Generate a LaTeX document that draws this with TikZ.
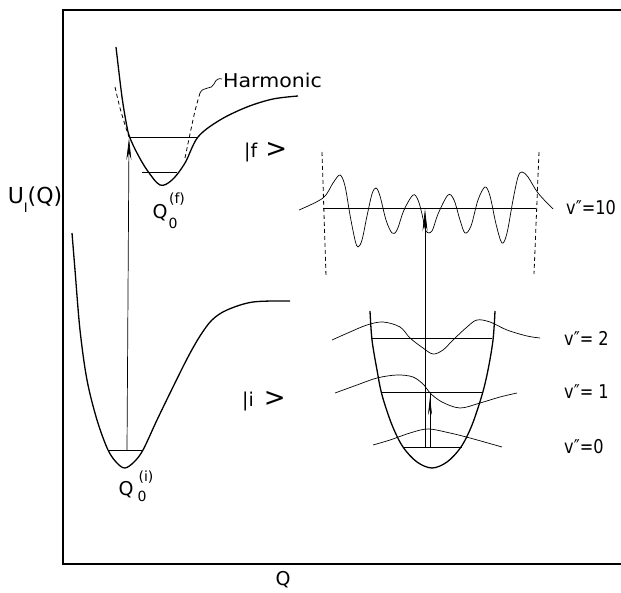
\documentclass[tikz,border=0pt]{standalone}
\usepackage{fontspec}
\setmainfont{DejaVu Sans}
\usetikzlibrary{arrows.meta}
\newcommand{\dq}{″}
\newcommand{\bigket}{{\fontsize{26}{26}\selectfont >}}
\tikzset{
  frameline/.style={line width=1.6pt},
  well/.style={line width=1.3pt, line join=round},
  thinline/.style={line width=0.7pt},
  wave/.style={line width=0.7pt, smooth, tension=0.55},
  harm/.style={line width=0.8pt, dashed, dash pattern=on 4pt off 3pt},
  lab/.style={inner sep=0pt, font=\fontsize{19}{19}\selectfont},
  biglab/.style={inner sep=0pt, font=\fontsize{22}{22}\selectfont},
  smalllab/.style={inner sep=0pt, font=\fontsize{14}{14}\selectfont},
  uparrow/.style={line width=0.7pt, -{Stealth[length=22pt,width=5pt]}},
}
\begin{document}
\begin{tikzpicture}[x=1pt,y=-1pt]
\useasboundingbox (0,0) rectangle (621,593);
% frame
\coordinate (tl) at (63,10);
\coordinate (tr) at (621,10);
\coordinate (bl) at (63,564);
\coordinate (br) at (621,564);
\draw[frameline] (tr) -- (tl) -- (bl) -- (br);
% axis labels
\node[biglab] (uq) at (35,200) {U\raisebox{-9pt}{\fontsize{13}{13}\selectfont I}(Q)};
\node[lab] (qax) at (283,580) {Q};
% upper (f) potential
\draw[well] plot[smooth, tension=0.55] coordinates {(116,47) (122,97) (127,127) (130,138) (137,153) (147,170) (160,185) (172,180) (185,163) (198,137) (220,120) (247,107) (273,99) (298,96)};
% harmonic dashed
\draw[harm] plot[smooth] coordinates {(115,87) (120,108) (126,128) (129,137)};
\draw[harm] plot[smooth] coordinates {(185,158) (190,134) (195,111) (200,93)};
\draw[line width=0.7pt] (200,93) .. controls (203,86) and (212,90) .. (214,84) .. controls (216,79) and (219,78) .. (222,79);
\node[lab, anchor=west] (harmlab) at (223,80) {\scalebox{1.08}[1]{Harmonic}};
% levels upper
\coordinate (fl1) at (130,137);
\coordinate (fr1) at (198,137);
\draw[thinline] (fl1) -- (fr1);
\coordinate (fl0) at (142,172);
\coordinate (fr0) at (177,172);
\draw[thinline] (fl0) -- (fr0);
\node[lab] (qf) at (160,213) {Q};
\node[smalllab] (qfs) at (173,223) {0};
\node[smalllab] (qfp) at (177,199) {(f)};
\node[lab, anchor=west] (ketf) at (244,152) {|f\hspace{8pt}\bigket};
% lower (i) potential
\draw[well] plot[smooth, tension=0.55] coordinates {(72,233) (75,270) (80,330) (87,380) (97,420) (108,450) (117,463) (125,468) (134,462) (143,450) (157,420) (173,387) (188,357) (200,336) (212,320) (227,310) (253,302) (290,301)};
\coordinate (il) at (108,450);
\coordinate (ir) at (143,450);
\draw[thinline] (il) -- (ir);
\node[lab] (qi) at (126,490) {Q};
\node[smalllab] (qis) at (142,496) {0};
\node[smalllab] (qip) at (146,477) {(i)};
\node[lab, anchor=west] (keti) at (242,401) {|i\hspace{10pt}\bigket};
% left transition arrow
\coordinate (ia) at (127,450);
\coordinate (fa) at (129,138);
\draw[uparrow] (ia) -- (fa);
% right: v''=10 wavefunction
\coordinate (l10) at (323,208);
\coordinate (r10) at (536,208);
\draw[thinline] (l10) -- (r10);
\draw[harm] (322,152) -- (326,276);
\draw[harm] (539,152) -- (534,274);
\draw[wave] plot coordinates {(299,210) (323,198) (333,183) (340,175) (345,186) (350,215) (355,240) (358,247) (362,240) (367,216) (372,194) (376,188) (380,196) (386,220) (392,233) (397,230) (404,210) (413,195) (418,200) (422,214) (426,231) (432,231) (438,214) (448,195) (454,200) (460,220) (465,233) (471,226) (478,200) (485,187) (490,196) (496,224) (502,243) (507,233) (513,200) (518,177) (522,172) (528,177) (538,193) (553,209)};
\node[lab, anchor=west] (v10) at (566,208) {\scalebox{0.85}[1]{v\dq=10}};
% lower right harmonic well
\draw[well] plot[smooth, tension=0.55] coordinates {(370,311) (372,340) (377,370) (382,395) (392,425) (403,447) (417,462) (432,468) (447,462) (461,447) (472,425) (482,395) (488,370) (493,340) (495,311)};
\coordinate (l2) at (372,338);
\coordinate (r2) at (492,338);
\draw[thinline] (l2) -- (r2);
\coordinate (l1) at (381,392);
\coordinate (r1) at (483,392);
\draw[thinline] (l1) -- (r1);
\coordinate (l0) at (403,447);
\coordinate (r0) at (462,447);
\draw[thinline] (l0) -- (r0);
\draw[wave] plot coordinates {(332,340) (350,332) (367,325) (383,322) (400,327) (410,338) (423,348) (433,354) (443,350) (453,340) (467,327) (477,320) (490,322) (507,330) (527,336) (540,338)};
\draw[wave] plot coordinates {(335,393) (357,385) (377,378) (397,375) (413,377) (424,385) (430,393) (442,402) (460,408) (480,403) (500,397) (517,393)};
\draw[wave] plot coordinates {(373,445) (390,440) (410,433) (428,429) (450,433) (470,438) (502,447)};
\node[lab, anchor=west] (v2) at (564,338) {\scalebox{0.85}[1]{v\dq= 2}};
\node[lab, anchor=west] (v1) at (564,392) {\scalebox{0.85}[1]{v\dq= 1}};
\node[lab, anchor=west] (v0) at (564,447) {\scalebox{0.85}[1]{v\dq=0}};
% right transition arrows
\coordinate (a0) at (425,447);
\coordinate (a10) at (425,209);
\draw[uparrow] (a0) -- (a10);
\coordinate (b0) at (430,447);
\coordinate (b1) at (430,392);
\coordinate (b1t) at (430,397);
\draw[thinline] (b0) -- (b1);
\draw[line width=0.7pt, -{Stealth[length=18pt,width=4pt]}] (b0) -- (b1t);
\end{tikzpicture}
\end{document}
